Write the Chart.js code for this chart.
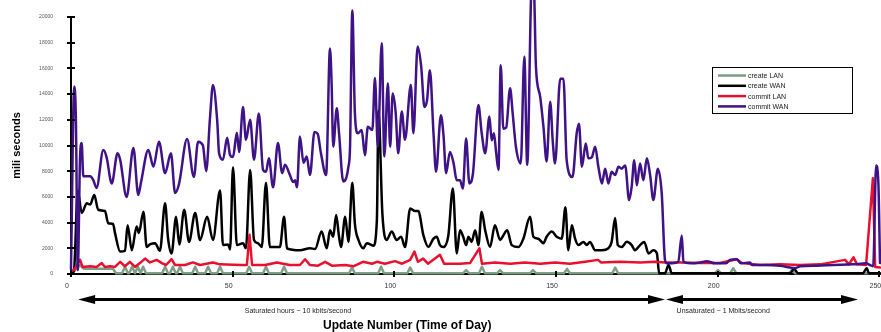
<!DOCTYPE html>
<html>
<head>
<meta charset="utf-8">
<style>
  html, body { margin: 0; padding: 0; background: #fff; }
  #wrap { width: 881px; height: 332px; }
</style>
<script src="https://cdn.jsdelivr.net/npm/chart.js@4/dist/chart.umd.min.js"></script>
</head>
<body>
<div id="wrap"><canvas id="chart" width="881" height="332"></canvas></div>
<script>
// series names / colours, in legend order
const seriesNames = ['create LAN', 'create WAN', 'commit LAN', 'commit WAN'];
const seriesColors = ['#7f9d85', '#000000', '#e8102e', '#3f1387'];
const seriesSmooth = [false, true, false, true];

const xTicks = [0, 50, 100, 150, 200, 250];
const yTicks = [0, 2000, 4000, 6000, 8000, 10000, 12000, 14000, 16000, 18000, 20000];

const xTitle = 'Update Number (Time of Day)';
const yTitle = 'mili seconds';

// annotation arrows under the axis: [from, to] in update numbers, with label and label centre
const spans = [[2.2, 183.7], [184.0, 243.4]];
const spanLabels = ['Saturated hours ~ 10 kbits/second', 'Unsaturated ~ 1 Mbits/second'];
const spanLabelAt = [70.2, 201.7];

// [update number, ms]
const createLAN = [
  [0,0],[0.9,200],[2.8,700],[4.0,400],[13.0,400],[13.9,60],
  [15.8,60],[16.7,570],[17.6,60],[18.0,60],[18.9,570],[19.8,60],
  [20.7,570],[21.5,60],[22.3,570],[23.2,60],
  [28.2,60],[29.1,570],[30.0,60],[30.6,60],[31.5,570],[32.4,60],
  [32.8,60],[33.7,570],[34.6,60],[37.5,60],[38.4,570],[39.3,60],
  [41.5,60],[42.4,570],[43.3,60],[45.2,60],[46.1,570],[47.0,60],
  [54.2,60],[55.1,570],[56.0,60],[59.4,60],[60.3,570],[61.2,60],
  [65.0,60],[65.9,570],[66.8,60],[86.0,60],[86.9,500],[87.8,60],
  [95.0,60],[95.9,570],[96.8,60],[104.0,60],[104.9,500],[105.8,60],
  [121.3,60],[122.2,300],[123.1,60],[126.2,60],[127.1,570],[128.0,60],
  [131.8,60],[132.7,300],[133.6,60],[142.0,60],[142.9,300],[143.8,60],
  [152.5,60],[153.4,400],[154.3,60],[167.4,60],[168.3,500],[169.2,60],
  [199.2,60],[200.1,300],[201.0,60],[203.9,60],[204.8,450],[205.7,60],
  [222.1,60],[223.0,300],[223.9,60],[250.2,60]
];

const createWAN = [
  [0,0],[0.9,200],[2.1,6500],[3.3,4750],[4.9,5500],[5.9,5400],[7.2,6150],[8.4,5000],
  [10.5,4900],[11.5,3950],[13.0,3900],[13.6,3200],[15.2,1750],[16.7,1800],[17.5,3800],
  [18.8,1850],[20.3,3700],[21.0,3200],[22.4,4850],[23.4,2100],[24.4,2300],[26.0,2400],
  [27.5,1800],[29.1,5500],[30.0,2800],[31.1,1600],[32.5,4450],[33.5,2300],[35.0,5000],
  [36.5,2500],[38.4,4750],[39.9,2650],[42.1,4450],[43.9,2650],[46.1,6500],[47.0,2250],
  [48.6,2300],[49.2,1900],[50.1,8300],[51.3,2250],[53.2,2400],[54.1,2000],[55.4,8100],
  [56.6,2650],[57.8,2400],[59.0,2100],[60.3,7100],[61.5,2100],[64.6,2100],[65.9,4450],
  [66.8,2000],[70.8,1850],[73.9,2000],[75.5,1950],[77.5,3300],[79.1,2000],[80.1,3400],
  [81.1,2900],[82.0,4600],[82.9,2900],[83.5,2100],[84.8,4450],[85.8,2500],[87.0,7100],
  [87.8,3900],[88.9,2650],[90.4,2000],[91.5,2400],[93.5,2200],[94.6,4200],[95.1,12700],
  [96.3,4700],[97.6,2650],[99.2,3300],[100.7,2650],[102.1,2900],[103.3,2100],[104.9,5100],
  [106.4,4900],[107.4,4900],[109.0,3000],[110.5,2100],[112.1,2750],[113.1,2900],[114.1,2250],
  [115.2,2100],[116.7,3000],[118.1,6650],[119.3,1600],[120.3,3400],[121.3,2900],[122.2,2250],
  [122.9,2900],[123.9,2500],[125.0,3400],[126.0,2250],[127.0,4850],[128.1,3400],[129.6,2100],
  [131.1,3800],[132.7,2650],[133.7,3000],[134.9,3400],[136.3,2250],[138.4,2100],[139.9,2750],
  [142.0,4450],[143.0,2900],[144.5,2750],[146.1,2400],[147.1,2900],[148.7,3300],[150.2,2900],
  [151.8,2750],[152.9,5200],[153.8,1850],[154.9,3800],[155.9,2750],[156.9,2250],[158.5,2500],
  [159.5,2250],[160.5,2500],[162.1,1850],[164.2,1850],[166.2,2000],[167.2,2500],[168.3,4350],
  [169.1,2250],[170.3,2100],[171.9,2500],[173.4,2250],[174.4,1850],[176.0,2250],[177.3,2500],
  [178.6,1600],[180.1,1850],[181.2,1600],[181.9,50],[183.7,50],[184.8,700],[185.8,50],
  [222.4,50],[223.6,400],[224.9,50],[244.9,50],[246.1,450],[246.8,50],[250.2,50]
];

const commitLAN = [
  [0.6,300],[0.9,300],[2.8,1100],[3.6,550],[5.9,600],[7.9,550],[9.5,850],[10.5,550],
  [12.1,600],[13.6,550],[15.2,950],[16.7,600],[18.2,950],[19.8,550],[21.3,850],[22.9,1200],
  [24.4,900],[26.5,1100],[28.1,850],[29.4,700],[31.1,1150],[32.2,700],[35.3,700],[37.7,900],
  [39.9,700],[43.9,900],[46.1,750],[52.3,700],[54.4,700],[55.2,3050],[56.0,700],[60.0,700],
  [63.7,900],[65.6,800],[67.7,700],[70.8,700],[72.4,1150],[73.9,700],[76.4,650],[78.6,950],
  [80.7,650],[84.8,700],[87.3,600],[90.3,950],[93.1,800],[94.6,950],[97.1,800],[100.2,1000],
  [102.4,800],[104.9,1100],[106.2,1750],[107.3,950],[108.9,1200],[110.4,800],[114.1,1500],
  [115.4,800],[120.3,800],[123.4,850],[126.3,2000],[127.1,800],[131.1,900],[135.8,800],
  [140.4,900],[145.1,800],[149.7,900],[154.3,800],[159.0,950],[163.0,1100],[163.9,900],
  [169.8,950],[176.0,900],[180.6,950],[183.7,900],[188.4,900],[194.6,850],[200.7,850],
  [205.9,1150],[207.5,850],[213.1,700],[219.3,750],[225.5,700],[231.7,750],[239.4,1100],
  [240.6,750],[242.0,1300],[243.1,750],[245.9,700],[248.0,7450],[248.7,550],[250.2,500]
];

const commitWAN = [
  [0,400],[1.0,14600],[1.5,12200],[2.1,300],[2.8,9100],[3.3,10200],[3.8,7600],[5.9,7600],
  [6.9,7300],[7.9,6700],[10.0,9650],[11.0,9100],[12.6,7050],[14.4,9400],[15.2,8900],[17.2,6000],
  [19.3,9800],[20.8,6150],[21.7,7200],[23.9,9650],[25.5,8350],[27.2,10300],[29.1,7850],[30.9,9400],
  [32.2,6300],[33.4,7000],[35.9,10500],[38.0,7550],[39.3,10300],[40.8,10000],[41.8,8000],[43.0,12200],
  [43.9,14700],[45.2,12000],[45.8,9400],[47.0,8900],[48.3,10600],[49.2,9250],[50.1,9100],[51.3,11000],
  [52.0,9500],[53.2,13000],[54.1,10450],[55.4,12000],[56.6,8900],[58.1,12500],[59.4,8100],[60.3,7950],
  [61.2,9000],[62.5,6750],[64.0,10200],[65.3,7850],[66.2,8500],[67.7,7700],[68.7,7150],[69.3,7300],
  [69.9,6750],[70.8,10700],[71.9,8650],[72.9,9150],[73.9,7700],[75.3,11050],[76.3,10900],[77.3,9400],
  [78.9,7700],[80.1,17550],[80.6,14850],[81.1,9900],[82.2,12900],[82.9,10950],[84.2,7200],[85.8,8350],
  [86.3,9900],[87.0,20500],[87.8,12500],[88.7,10950],[89.9,11200],[90.9,9250],[91.8,11450],[93.2,11200],
  [94.0,15250],[94.9,9900],[96.1,17950],[96.9,9150],[98.0,14850],[98.7,9900],[99.5,14050],[100.4,12600],
  [101.2,9400],[102.3,12650],[103.3,10450],[105.1,14700],[105.9,10950],[107.2,17700],[108.3,16150],[109.3,13000],
  [110.1,13500],[111.0,15850],[112.1,11000],[112.9,7950],[114.4,12350],[115.2,10800],[116.0,7850],[117.2,9500],
  [118.3,8650],[119.3,7300],[120.3,7300],[121.2,6650],[122.2,10550],[123.2,7050],[124.3,7800],[126.0,13150],
  [127.0,11000],[128.1,9400],[129.4,12250],[130.1,10400],[130.8,10950],[131.5,9400],[132.2,8100],[132.9,16250],
  [133.7,11300],[134.6,11400],[135.8,14450],[136.6,12500],[137.6,9900],[139.1,8600],[140.2,16900],[141.1,8500],
  [142.5,22500],[143.1,22500],[143.8,16100],[145.1,13800],[146.1,11500],[147.1,8750],[148.2,13400],[149.0,10300],
  [149.7,8600],[151.3,15200],[152.3,15200],[153.3,8850],[155.1,7550],[156.4,10950],[157.1,11700],[158.0,8350],
  [159.2,10150],[160.0,9000],[161.1,9100],[162.1,9900],[163.1,8350],[164.2,7050],[165.2,8200],[166.2,7050],
  [167.2,7950],[168.3,7700],[169.3,8350],[170.3,8200],[171.4,8450],[172.6,5750],[173.4,6800],[174.2,8850],
  [175.0,6900],[176.0,8600],[177.0,7300],[178.1,9000],[179.1,7700],[180.1,5750],[181.5,8200],[182.7,6250],
  [183.7,1100],[184.3,830],[185.9,830],[187.8,950],[188.9,3000],[189.4,950],[191.5,830],[194.6,900],
  [196.6,1000],[199.2,830],[202.6,830],[203.8,1100],[205.9,1150],[207.2,830],[210.0,900],[210.6,700],
  [214.0,700],[219.3,650],[222.4,500],[223.9,450],[225.5,600],[230.8,650],[235.7,700],[241.9,750],
  [245.9,830],[247.1,700],[248.1,600],[249.0,8450],[249.7,7050],[250.2,850]
];

const seriesData = [createLAN, createWAN, commitLAN, commitWAN];

Chart.defaults.font.family = "'Liberation Sans', Arial, sans-serif";
Chart.defaults.color = '#333';

function drawArrow(ctx, x1, x2, y) {
  const head = 17, half = 4.5;
  ctx.fillStyle = '#000';
  ctx.fillRect(x1 + head - 1, y - 1.5, (x2 - x1) - 2 * head + 2, 3);
  ctx.beginPath();
  ctx.moveTo(x1, y); ctx.lineTo(x1 + head, y - half); ctx.lineTo(x1 + head, y + half);
  ctx.closePath(); ctx.fill();
  ctx.beginPath();
  ctx.moveTo(x2, y); ctx.lineTo(x2 - head, y - half); ctx.lineTo(x2 - head, y + half);
  ctx.closePath(); ctx.fill();
}

const decorations = {
  id: 'decorations',
  afterDraw(chart) {
    const ctx = chart.ctx;
    const xs = chart.scales.x, ys = chart.scales.y;
    const area = chart.chartArea;
    ctx.save();

    // tick marks crossing the axes
    ctx.strokeStyle = '#000';
    ctx.lineWidth = 2;
    ys.ticks.forEach(t => {
      const py = Math.round(ys.getPixelForValue(t.value));
      ctx.beginPath(); ctx.moveTo(area.left - 4, py); ctx.lineTo(area.left + 4, py); ctx.stroke();
    });
    xs.ticks.forEach(t => {
      const px = Math.round(xs.getPixelForValue(t.value));
      ctx.beginPath(); ctx.moveTo(px, area.bottom - 3); ctx.lineTo(px, area.bottom + 3); ctx.stroke();
    });

    // range arrows + their captions
    ctx.font = "7px 'Liberation Sans', Arial, sans-serif";
    ctx.textAlign = 'center';
    ctx.textBaseline = 'middle';
    spans.forEach((s, i) => {
      drawArrow(ctx, xs.getPixelForValue(s[0]), xs.getPixelForValue(s[1]), 299.5);
      ctx.fillStyle = '#222';
      ctx.fillText(spanLabels[i], xs.getPixelForValue(spanLabelAt[i]), 311.5);
    });

    // x axis title
    ctx.font = "bold 12px 'Liberation Sans', Arial, sans-serif";
    ctx.fillStyle = '#000';
    ctx.textAlign = 'left';
    ctx.fillText(xTitle, 323, 326);

    // legend box
    const lx = 712, ly = 67;
    ctx.lineWidth = 1;
    ctx.strokeStyle = '#000';
    ctx.strokeRect(lx + 0.5, ly + 0.5, 140, 46);
    ctx.font = "7px 'Liberation Sans', Arial, sans-serif";
    seriesNames.forEach((name, i) => {
      const y = ly + 8.5 + i * 10.3;
      ctx.strokeStyle = seriesColors[i];
      ctx.lineWidth = 2.5;
      ctx.beginPath(); ctx.moveTo(lx + 6, y); ctx.lineTo(lx + 34, y); ctx.stroke();
      ctx.fillStyle = '#222';
      ctx.fillText(name, lx + 36, y + 0.5);
    });
    ctx.restore();
  }
};

new Chart(document.getElementById('chart'), {
  type: 'line',
  data: {
    datasets: seriesData.map((d, i) => ({
      label: seriesNames[i],
      data: d.map(p => ({ x: p[0], y: p[1] })),
      borderColor: seriesColors[i],
      backgroundColor: seriesColors[i],
      borderWidth: 2.5,
      pointRadius: 0,
      tension: 0,
      cubicInterpolationMode: seriesSmooth[i] ? 'monotone' : 'default',
      clip: false,
      borderJoinStyle: 'round',
      borderCapStyle: 'round',
      order: seriesData.length - i
    }))
  },
  options: {
    responsive: false,
    animation: false,
    devicePixelRatio: 1,
    events: [],
    layout: { padding: { top: 17, right: 1, left: 0, bottom: 0 } },
    plugins: { legend: { display: false }, tooltip: { enabled: false } },
    scales: {
      x: {
        type: 'linear',
        min: 0,
        max: 250.2,
        afterBuildTicks: s => { s.ticks = xTicks.map(v => ({ value: v })); },
        afterFit: s => { s.height = 58; s.paddingLeft = 0; s.paddingRight = 0; },
        grid: { drawOnChartArea: false, drawTicks: false },
        border: { color: '#000', width: 2 },
        ticks: { font: { size: 7 }, color: '#333', padding: 8, labelOffset: -4, maxRotation: 0, autoSkip: false }
      },
      y: {
        min: 0,
        max: 20000,
        afterBuildTicks: s => { s.ticks = yTicks.map(v => ({ value: v })); },
        afterFit: s => { s.width = 71; s.paddingTop = 0; s.paddingBottom = 0; },
        grid: { drawOnChartArea: false, drawTicks: false },
        border: { color: '#000', width: 2 },
        ticks: { font: { size: 5 }, color: '#555', padding: 18, callback: v => String(v) },
        title: { display: true, text: yTitle, color: '#000', font: { size: 11, weight: 'bold' }, padding: { top: 10, bottom: 0 } }
      }
    }
  },
  plugins: [decorations]
});
</script>
</body>
</html>
